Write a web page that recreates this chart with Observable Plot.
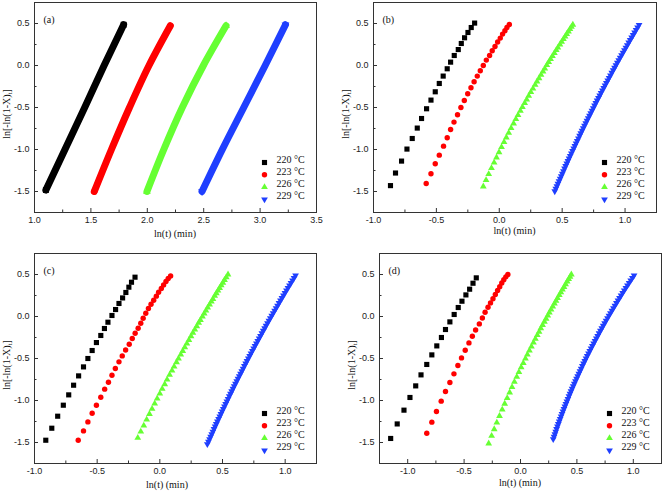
<!DOCTYPE html>
<html><head><meta charset="utf-8">
<script src="https://cdn.jsdelivr.net/npm/d3@7"></script>
<script src="https://cdn.jsdelivr.net/npm/@observablehq/plot@0.6"></script>
<style>
body{margin:0;background:#fff}
#wrap{position:relative;width:663px;height:491px;overflow:hidden;background:#fff}
.panel{position:absolute}
</style></head><body><div id="wrap"></div>
<script>
// ---------- data ----------
const legendLabels = ["220 °C", "223 °C", "226 °C", "229 °C"];
const panelLabels = ["(a)", "(b)", "(c)", "(d)"];
const xTitle = "ln(t) (min)";
const yTicks = [-1.5, -1.0, -0.5, 0.0, 0.5];
const yMinor = [-1.25, -0.75, -0.25, 0.25];
const xTicksA = [1.0, 1.5, 2.0, 2.5, 3.0, 3.5];
const xMinorA = [1.25, 1.75, 2.25, 2.75, 3.25];
const xTicksBC = [-1.0, -0.5, 0.0, 0.5, 1.0];
const xMinorBC = [-0.75, -0.25, 0.25, 0.75];
const xTicksD = [-1.0, -0.5, 0.0, 0.5, 1.0];
const xMinorD = [-0.75, -0.25, 0.25, 0.75];

// (a) dense bands
const aBlackX = [1.101, 1.270, 1.445, 1.617, 1.790];
const aBlackY = [-1.483, -1.0, -0.5, 0.0, 0.485];
const aRedX = [1.530, 1.682, 1.842, 2.015, 2.204];
const aRedY = [-1.5, -1.0, -0.5, 0.0, 0.473];
const aGreenX = [1.997, 2.146, 2.310, 2.497, 2.698];
const aGreenY = [-1.5, -1.0, -0.5, 0.0, 0.473];
const aBlueX = [2.485, 2.665, 2.855, 3.045, 3.225];
const aBlueY = [-1.5, -1.0, -0.5, 0.0, 0.485];

// (b)
const bBlackX = [-0.865, -0.825, -0.777, -0.734, -0.692, -0.652, -0.618, -0.578, -0.543, -0.509, -0.477, -0.446, -0.414, -0.387, -0.358, -0.326, -0.302, -0.276, -0.249, -0.223, -0.196];
const bBlackY = [-1.430, -1.280, -1.138, -0.995, -0.869, -0.745, -0.631, -0.515, -0.412, -0.313, -0.214, -0.126, -0.039, 0.040, 0.119, 0.190, 0.262, 0.330, 0.393, 0.452, 0.505];
const bRedX = [-0.581, -0.543, -0.509, -0.477, -0.443, -0.414, -0.387, -0.360, -0.332, -0.305, -0.278, -0.251, -0.225, -0.200, -0.175, -0.151, -0.127, -0.103, -0.077, -0.056, -0.034, -0.013, 0.008, 0.026, 0.045, 0.061, 0.080];
const bRedY = [-1.405, -1.289, -1.170, -1.067, -0.960, -0.861, -0.762, -0.674, -0.587, -0.500, -0.417, -0.337, -0.265, -0.194, -0.126, -0.063, 0.000, 0.064, 0.119, 0.175, 0.226, 0.279, 0.326, 0.374, 0.413, 0.452, 0.488];
const bGreenX = [-0.127, -0.105, -0.084, -0.062, -0.041, -0.022, -0.002, 0.018, 0.038, 0.056, 0.075, 0.094, 0.114, 0.132, 0.149, 0.168, 0.184, 0.202, 0.218, 0.234, 0.251, 0.268, 0.285, 0.300, 0.316, 0.332, 0.348, 0.362, 0.378, 0.393, 0.408, 0.423, 0.438, 0.453, 0.466, 0.482, 0.496, 0.510, 0.523, 0.536, 0.550, 0.562, 0.574, 0.585];
const bGreenY = [-1.440, -1.365, -1.293, -1.222, -1.155, -1.095, -1.032, -0.972, -0.912, -0.857, -0.801, -0.746, -0.690, -0.639, -0.591, -0.539, -0.496, -0.448, -0.405, -0.361, -0.317, -0.274, -0.230, -0.190, -0.151, -0.111, -0.071, -0.036, 0.004, 0.040, 0.076, 0.111, 0.147, 0.183, 0.214, 0.250, 0.282, 0.314, 0.345, 0.375, 0.405, 0.433, 0.460, 0.485];
const bBlueX = [0.441, 0.4494, 0.4579, 0.4664, 0.4750, 0.4837, 0.4924, 0.5011, 0.5099, 0.5188, 0.5277, 0.5366, 0.5456, 0.5547, 0.5638, 0.5730, 0.5822, 0.5915, 0.6008, 0.6102, 0.6197, 0.6291, 0.6387, 0.6483, 0.6579, 0.6677, 0.6774, 0.6872, 0.6971, 0.7070, 0.7170, 0.7270, 0.7371, 0.7472, 0.7574, 0.7676, 0.7779, 0.7883, 0.7987, 0.8091, 0.8196, 0.8302, 0.8408, 0.8515, 0.8622, 0.8729, 0.8838, 0.8946, 0.9056, 0.9166, 0.9276, 0.9387, 0.9498, 0.9610, 0.9723, 0.9836, 0.9949, 1.0064, 1.0178, 1.0293, 1.0409, 1.0525, 1.0642, 1.0759, 1.0877, 1.0996, 1.1114];
const bBlueY = [-1.497, -1.467, -1.437, -1.407, -1.377, -1.347, -1.317, -1.287, -1.257, -1.227, -1.197, -1.167, -1.137, -1.107, -1.077, -1.047, -1.017, -0.987, -0.957, -0.927, -0.897, -0.867, -0.837, -0.807, -0.777, -0.747, -0.717, -0.687, -0.657, -0.627, -0.597, -0.567, -0.537, -0.507, -0.477, -0.447, -0.417, -0.387, -0.357, -0.327, -0.297, -0.267, -0.237, -0.207, -0.177, -0.147, -0.117, -0.087, -0.057, -0.027, 0.003, 0.033, 0.063, 0.093, 0.123, 0.153, 0.183, 0.213, 0.243, 0.273, 0.303, 0.333, 0.363, 0.393, 0.423, 0.453, 0.483];

// (c)
const cBlackX = [-0.910, -0.862, -0.815, -0.770, -0.727, -0.688, -0.648, -0.609, -0.574, -0.540, -0.506, -0.471, -0.442, -0.414, -0.382, -0.353, -0.326, -0.297, -0.271, -0.247, -0.226, -0.198];
const cBlackY = [-1.473, -1.330, -1.187, -1.056, -0.933, -0.818, -0.707, -0.600, -0.500, -0.405, -0.310, -0.226, -0.143, -0.068, 0.012, 0.083, 0.155, 0.221, 0.286, 0.349, 0.408, 0.468];
const cRedX = [-0.651, -0.609, -0.574, -0.540, -0.506, -0.471, -0.440, -0.410, -0.382, -0.355, -0.326, -0.300, -0.273, -0.244, -0.220, -0.197, -0.173, -0.152, -0.133, -0.112, -0.091, -0.070, -0.049, -0.028, -0.010, 0.012, 0.030, 0.049, 0.067, 0.086];
const cRedY = [-1.473, -1.362, -1.255, -1.151, -1.056, -0.961, -0.865, -0.782, -0.699, -0.619, -0.540, -0.469, -0.398, -0.330, -0.262, -0.199, -0.139, -0.080, -0.020, 0.039, 0.095, 0.146, 0.194, 0.242, 0.289, 0.333, 0.376, 0.417, 0.452, 0.483];
const cGreenX = [-0.176, -0.152, -0.128, -0.105, -0.083, -0.062, -0.041, -0.021, 0.000, 0.019, 0.039, 0.058, 0.078, 0.097, 0.114, 0.133, 0.149, 0.167, 0.183, 0.199, 0.216, 0.232, 0.249, 0.264, 0.279, 0.295, 0.310, 0.324, 0.340, 0.354, 0.368, 0.382, 0.397, 0.411, 0.424, 0.438, 0.451, 0.464, 0.477, 0.490, 0.503, 0.516, 0.530, 0.544];
const cGreenY = [-1.445, -1.370, -1.298, -1.227, -1.160, -1.100, -1.037, -0.977, -0.917, -0.862, -0.806, -0.751, -0.695, -0.644, -0.596, -0.544, -0.501, -0.453, -0.410, -0.366, -0.322, -0.279, -0.235, -0.195, -0.156, -0.116, -0.076, -0.041, -0.001, 0.035, 0.071, 0.106, 0.142, 0.178, 0.209, 0.245, 0.277, 0.309, 0.340, 0.370, 0.402, 0.435, 0.467, 0.500];
const cBlueX = [0.379, 0.3877, 0.3965, 0.4053, 0.4142, 0.4232, 0.4322, 0.4412, 0.4503, 0.4595, 0.4687, 0.4780, 0.4873, 0.4967, 0.5061, 0.5156, 0.5251, 0.5347, 0.5443, 0.5540, 0.5638, 0.5736, 0.5834, 0.5934, 0.6033, 0.6134, 0.6235, 0.6336, 0.6438, 0.6540, 0.6643, 0.6746, 0.6850, 0.6955, 0.7060, 0.7166, 0.7272, 0.7379, 0.7486, 0.7594, 0.7702, 0.7811, 0.7920, 0.8030, 0.8141, 0.8252, 0.8363, 0.8475, 0.8588, 0.8701, 0.8815, 0.8929, 0.9044, 0.9159, 0.9275, 0.9392, 0.9509, 0.9626, 0.9744, 0.9863, 0.9982, 1.0102, 1.0222, 1.0343, 1.0464, 1.0586, 1.0708, 1.0830];
const cBlueY = [-1.52, -1.49, -1.46, -1.43, -1.40, -1.37, -1.34, -1.31, -1.28, -1.25, -1.22, -1.19, -1.16, -1.13, -1.10, -1.07, -1.04, -1.01, -0.98, -0.95, -0.92, -0.89, -0.86, -0.83, -0.80, -0.77, -0.74, -0.71, -0.68, -0.65, -0.62, -0.59, -0.56, -0.53, -0.50, -0.47, -0.44, -0.41, -0.38, -0.35, -0.32, -0.29, -0.26, -0.23, -0.20, -0.17, -0.14, -0.11, -0.08, -0.05, -0.02, 0.01, 0.04, 0.07, 0.10, 0.13, 0.16, 0.19, 0.22, 0.25, 0.28, 0.31, 0.34, 0.37, 0.40, 0.43, 0.46, 0.49];

// (d)
const dBlackX = [-1.151, -1.093, -1.033, -0.980, -0.929, -0.882, -0.831, -0.786, -0.742, -0.701, -0.665, -0.626, -0.588, -0.552, -0.519, -0.484, -0.451, -0.421, -0.392];
const dBlackY = [-1.452, -1.279, -1.115, -0.964, -0.826, -0.695, -0.571, -0.457, -0.350, -0.250, -0.155, -0.064, 0.024, 0.107, 0.182, 0.257, 0.325, 0.396, 0.460];
const dRedX = [-0.831, -0.786, -0.745, -0.703, -0.665, -0.626, -0.590, -0.555, -0.523, -0.490, -0.457, -0.427, -0.398, -0.365, -0.338, -0.314, -0.288, -0.266, -0.244, -0.223, -0.203, -0.184, -0.166, -0.148, -0.130, -0.112];
const dRedY = [-1.389, -1.258, -1.131, -1.008, -0.893, -0.786, -0.683, -0.583, -0.493, -0.401, -0.314, -0.235, -0.160, -0.088, -0.017, 0.051, 0.110, 0.162, 0.212, 0.262, 0.310, 0.355, 0.398, 0.438, 0.472, 0.500];
const dGreenX = [-0.282, -0.256, -0.233, -0.210, -0.186, -0.162, -0.140, -0.118, -0.096, -0.075, -0.054, -0.033, -0.014, 0.006, 0.025, 0.044, 0.061, 0.079, 0.097, 0.115, 0.132, 0.149, 0.165, 0.180, 0.196, 0.212, 0.227, 0.242, 0.256, 0.271, 0.286, 0.301, 0.315, 0.329, 0.344, 0.358, 0.372, 0.386, 0.400, 0.414, 0.427, 0.439, 0.451];
const dGreenY = [-1.512, -1.421, -1.342, -1.263, -1.184, -1.109, -1.038, -0.971, -0.904, -0.841, -0.778, -0.718, -0.662, -0.606, -0.554, -0.502, -0.454, -0.406, -0.358, -0.310, -0.266, -0.222, -0.182, -0.142, -0.102, -0.062, -0.026, 0.010, 0.046, 0.082, 0.118, 0.154, 0.186, 0.220, 0.254, 0.287, 0.320, 0.352, 0.384, 0.415, 0.446, 0.473, 0.500];
const dBlueX = [0.290, 0.2973, 0.3046, 0.3121, 0.3197, 0.3275, 0.3353, 0.3433, 0.3514, 0.3596, 0.3679, 0.3763, 0.3849, 0.3935, 0.4023, 0.4112, 0.4203, 0.4294, 0.4387, 0.4480, 0.4575, 0.4672, 0.4769, 0.4867, 0.4967, 0.5068, 0.5170, 0.5273, 0.5378, 0.5483, 0.5590, 0.5698, 0.5807, 0.5917, 0.6028, 0.6141, 0.6255, 0.6370, 0.6486, 0.6603, 0.6722, 0.6841, 0.6962, 0.7084, 0.7208, 0.7332, 0.7458, 0.7584, 0.7712, 0.7841, 0.7972, 0.8103, 0.8236, 0.8369, 0.8504, 0.8641, 0.8778, 0.8916, 0.9056, 0.9197, 0.9339, 0.9482, 0.9627, 0.9772, 0.9919, 1.0067];
const dBlueY = [-1.46, -1.43, -1.40, -1.37, -1.34, -1.31, -1.28, -1.25, -1.22, -1.19, -1.16, -1.13, -1.10, -1.07, -1.04, -1.01, -0.98, -0.95, -0.92, -0.89, -0.86, -0.83, -0.80, -0.77, -0.74, -0.71, -0.68, -0.65, -0.62, -0.59, -0.56, -0.53, -0.50, -0.47, -0.44, -0.41, -0.38, -0.35, -0.32, -0.29, -0.26, -0.23, -0.20, -0.17, -0.14, -0.11, -0.08, -0.05, -0.02, 0.01, 0.04, 0.07, 0.10, 0.13, 0.16, 0.19, 0.22, 0.25, 0.28, 0.31, 0.34, 0.37, 0.40, 0.43, 0.46, 0.49];

// ---------- style ----------
const seriesColors = ["#000000", "#ff0000", "#66ff33", "#1f3fff"];
const triangleDown = {
  draw(context, size) {
    const s3 = Math.sqrt(3);
    const y = Math.sqrt(size / (s3 * 3));
    context.moveTo(0, 2 * y);
    context.lineTo(-s3 * y, -y);
    context.lineTo(s3 * y, -y);
    context.closePath();
  }
};
const seriesSymbols = ["square", "circle", "triangle", triangleDown];
const seriesR = [2.9, 2.7, 2.5, 2.5];
const serif = "'Liberation Serif', 'Times New Roman', serif";
const sans = "'Liberation Sans', Arial, sans-serif";

function makePanel(p) {
  const innerW = p.width - p.ml - p.mr, innerH = p.height - p.mt - p.mb;
  const fmt = d => d.toFixed(1);
  const marks = [
    Plot.tickX(p.xTicks, {x: d => d, insetTop: innerH - 4, stroke: "#333"}),
    Plot.tickX(p.xMinor, {x: d => d, insetTop: innerH - 2.5, stroke: "#333"}),
    Plot.tickY(yTicks, {y: d => d, insetRight: innerW - 4, stroke: "#333"}),
    Plot.tickY(yMinor, {y: d => d, insetRight: innerW - 2.5, stroke: "#333"})
  ];
  p.series.forEach(([xs, ys], i) => {
    const pts = xs.map((x, j) => [x, ys[j]]);
    if (p.band) {
      marks.push(Plot.line(pts, {x: d => d[0], y: d => d[1], stroke: seriesColors[i], strokeWidth: 7, curve: "monotone-y"}));
      marks.push(Plot.dot([pts[0], pts[pts.length - 1]], {x: d => d[0], y: d => d[1], symbol: seriesSymbols[i], fill: seriesColors[i], r: seriesR[i] * 1.15}));
    } else {
      marks.push(Plot.dot(pts, {x: d => d[0], y: d => d[1], symbol: seriesSymbols[i], fill: seriesColors[i], r: seriesR[i]}));
    }
  });
  legendLabels.forEach((lab, i) => {
    const dy = -(50 - 12.3 * i);
    marks.push(Plot.dot([lab], {frameAnchor: "bottom-right", dx: -52, dy, symbol: seriesSymbols[i], fill: seriesColors[i], r: seriesR[i]}));
    marks.push(Plot.text([lab], {text: d => d, frameAnchor: "bottom-right", dx: -40, dy, textAnchor: "start", fontFamily: serif, fontSize: 10, fill: "#111"}));
  });
  marks.push(Plot.text([p.label], {text: d => d, frameAnchor: "top-left", dx: 9, dy: 13, textAnchor: "start", fontFamily: serif, fontSize: 10, fill: "#111"}));
  marks.push(Plot.frame({stroke: "#333", strokeWidth: 1}));

  const svg = Plot.plot({
    width: p.width, height: p.height,
    marginTop: p.mt, marginRight: p.mr, marginBottom: p.mb, marginLeft: p.ml,
    x: {domain: p.xDomain, ticks: p.xTicks, tickSize: 0, tickPadding: 4, tickFormat: fmt, label: null},
    y: {domain: [-1.75, 0.75], ticks: yTicks, tickSize: 0, tickPadding: 5, tickFormat: fmt, label: null},
    style: {fontFamily: sans, fontSize: "9px", color: "#222", background: "#fff", overflow: "visible"},
    marks
  });
  const s = d3.select(svg);
  const cx = p.ml + innerW / 2 + (p.xTitleShift || 0);
  s.append("text")
    .attr("x", cx).attr("y", p.height - p.mb + p.xTitleDy)
    .attr("text-anchor", "middle").attr("font-family", serif).attr("font-size", 10).attr("fill", "#111")
    .text(xTitle);
  const yt = s.append("text")
    .attr("transform", `translate(${p.ml - 24.5},${p.mt + innerH / 2 + 7}) rotate(-90)`)
    .attr("text-anchor", "middle").attr("font-family", serif).attr("font-size", 10).attr("fill", "#111");
  yt.append("tspan").text("ln[-ln(1-X)");
  yt.append("tspan").attr("font-size", 7).attr("dy", 2).text("t");
  yt.append("tspan").attr("font-size", 10).attr("dy", -2).text("]");

  const div = document.createElement("div");
  div.className = "panel";
  div.style.left = p.left + "px";
  div.style.top = p.top + "px";
  div.appendChild(svg);
  document.getElementById("wrap").appendChild(div);
}

makePanel({left: 0, top: 0, width: 330, height: 245, mt: 2, mr: 14, mb: 33, ml: 34,
  xDomain: [1, 3.5], xTicks: xTicksA, xMinor: xMinorA, label: panelLabels[0], band: true, xTitleDy: 24.5,
  series: [[aBlackX, aBlackY], [aRedX, aRedY], [aGreenX, aGreenY], [aBlueX, aBlueY]]});
makePanel({left: 330, top: 0, width: 333, height: 245, mt: 2, mr: 7, mb: 33, ml: 43,
  xDomain: [-1, 1.25], xTicks: xTicksBC, xMinor: xMinorBC, label: panelLabels[1], xTitleDy: 21.5,
  series: [[bBlackX, bBlackY], [bRedX, bRedY], [bGreenX, bGreenY], [bBlueX, bBlueY]]});
makePanel({left: 0, top: 245, width: 330, height: 246, mt: 8, mr: 14, mb: 28, ml: 34,
  xDomain: [-1, 1.25], xTicks: xTicksBC, xMinor: xMinorBC, label: panelLabels[2], xTitleDy: 24.5, xTitleShift: -8,
  series: [[cBlackX, cBlackY], [cRedX, cRedY], [cGreenX, cGreenY], [cBlueX, cBlueY]]});
makePanel({left: 330, top: 245, width: 333, height: 246, mt: 8, mr: 2, mb: 28, ml: 49,
  xDomain: [-1.25, 1.25], xTicks: xTicksD, xMinor: xMinorD, label: panelLabels[3], xTitleDy: 22.5,
  series: [[dBlackX, dBlackY], [dRedX, dRedY], [dGreenX, dGreenY], [dBlueX, dBlueY]]});
</script></body></html>
